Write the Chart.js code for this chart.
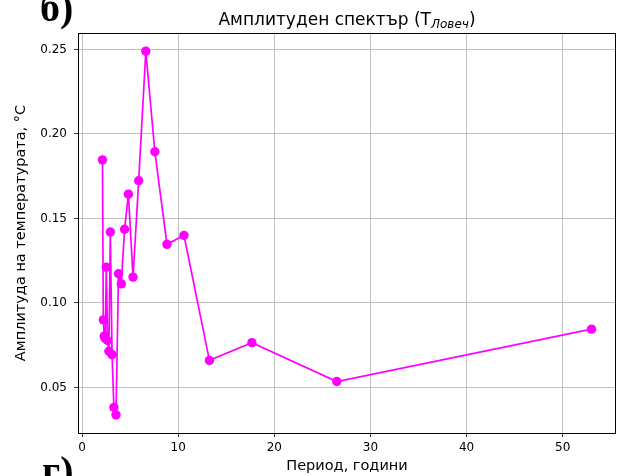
<!DOCTYPE html>
<html>
<head>
<meta charset="utf-8">
<script src="https://cdn.jsdelivr.net/npm/chart.js@4/dist/chart.umd.min.js"></script>
<style>
  html, body { margin: 0; padding: 0; background: #ffffff; }
  #wrap { position: relative; width: 617px; height: 476px; }
  canvas { display: block; }
</style>
</head>
<body>
<div id="wrap"><canvas id="chart" width="617" height="476"></canvas></div>
<script>
// Amplitude spectrum of the Lovech temperature series: period (years) vs amplitude (°C)
const periods = [53.0, 26.5, 17.67, 13.25, 10.6, 8.83, 7.57, 6.63, 5.89, 5.3, 4.82, 4.42, 4.08,
                 3.79, 3.53, 3.31, 3.12, 2.94, 2.79, 2.65, 2.52, 2.41, 2.3, 2.21, 2.12];
const amplitudes = [0.0845, 0.0535, 0.0765, 0.066, 0.140, 0.1347, 0.1895, 0.249, 0.1723, 0.1153, 0.1644, 0.1436, 0.1113,
                    0.1173, 0.0338, 0.0382, 0.0694, 0.142, 0.0714, 0.0778, 0.1212, 0.0790, 0.0804, 0.0900, 0.1847];
const xTicks = [0, 10, 20, 30, 40, 50];
const yTicks = [0.05, 0.10, 0.15, 0.20, 0.25];

const titleMain = 'Амплитуден спектър (T';
const titleSub = 'Ловеч';
const xLabel = 'Период, години';
const yLabel = 'Амплитуда на температурата, °C';
const panelTop = 'б)';
const panelBottom = 'г)';

const FONT = '"DejaVu Sans", sans-serif';
const points = periods.map((p, i) => ({ x: p, y: amplitudes[i] }));

// margins of 5% around the data range on both axes
const xr = Math.max(...periods) - Math.min(...periods);
const yr = Math.max(...amplitudes) - Math.min(...amplitudes);
const xMin = Math.min(...periods) - 0.05 * xr, xMax = Math.max(...periods) + 0.05 * xr;
const yMin = Math.min(...amplitudes) - 0.05 * yr, yMax = Math.max(...amplitudes) + 0.05 * yr;

const decorations = {
  id: 'decorations',
  afterDraw(chart) {
    const { ctx, chartArea: a } = chart;
    ctx.save();
    // frame around the plotting area
    ctx.strokeStyle = '#000';
    ctx.lineWidth = 1;
    ctx.strokeRect(Math.round(a.left) + 0.5, Math.round(a.top) + 0.5,
                   Math.round(a.right - a.left) - 1, Math.round(a.bottom - a.top));

    // title with italic subscript
    ctx.fillStyle = '#000';
    ctx.textBaseline = 'alphabetic';
    const mainFont = '17px ' + FONT;
    const subFont = 'italic 12px ' + FONT;
    ctx.font = mainFont;
    const w1 = ctx.measureText(titleMain).width;
    const w3 = ctx.measureText(')').width;
    ctx.font = subFont;
    const w2 = ctx.measureText(titleSub).width;
    const cx = (a.left + a.right) / 2;
    let x = cx - (w1 + w2 + w3) / 2;
    const by = 25;
    ctx.font = mainFont;
    ctx.textAlign = 'left';
    ctx.fillText(titleMain, x, by);
    x += w1;
    ctx.font = subFont;
    ctx.fillText(titleSub, x, by + 3);
    x += w2;
    ctx.font = mainFont;
    ctx.fillText(')', x, by);

    // axis labels
    ctx.font = '14.5px ' + FONT;
    ctx.textAlign = 'center';
    ctx.fillText(xLabel, cx, 470);
    ctx.save();
    ctx.translate(25, (a.top + a.bottom) / 2);
    ctx.rotate(-Math.PI / 2);
    ctx.fillText(yLabel, 0, 0);
    ctx.restore();

    // panel letters
    ctx.font = 'bold 40px "Liberation Serif", serif';
    ctx.textAlign = 'left';
    ctx.fillText(panelTop, 40, 21);
    ctx.fillText(panelBottom, 42, 484);
    ctx.restore();
  }
};

new Chart(document.getElementById('chart'), {
  type: 'scatter',
  data: {
    datasets: [{
      data: points,
      showLine: true,
      borderColor: '#ff00ff',
      backgroundColor: '#ff00ff',
      borderWidth: 1.7,
      pointRadius: 4.7,
      pointHoverRadius: 4.7,
      pointBorderWidth: 0,
      tension: 0
    }]
  },
  options: {
    responsive: false,
    animation: false,
    events: [],
    layout: { autoPadding: false, padding: { top: 33, right: 1, left: 0, bottom: 0 } },
    plugins: { legend: { display: false }, tooltip: { enabled: false }, title: { display: false } },
    scales: {
      x: {
        type: 'linear',
        min: xMin, max: xMax,
        afterBuildTicks: s => { s.ticks = xTicks.map(v => ({ value: v })); },
        afterFit: s => { s.height = 43; },
        grid: { color: '#b0b0b0', lineWidth: 0.8, tickColor: '#000', tickLength: 4, drawTicks: true },
        border: { display: false },
        ticks: { color: '#000', font: { family: FONT, size: 12 }, padding: 4, maxRotation: 0,
                 callback: v => String(v) }
      },
      y: {
        type: 'linear',
        min: yMin, max: yMax,
        afterBuildTicks: s => { s.ticks = yTicks.map(v => ({ value: v })); },
        afterFit: s => { s.width = 78; },
        grid: { color: '#b0b0b0', lineWidth: 0.8, tickColor: '#000', tickLength: 4, drawTicks: true },
        border: { display: false },
        ticks: { color: '#000', font: { family: FONT, size: 12 }, padding: 7,
                 callback: v => v.toFixed(2) }
      }
    }
  },
  plugins: [decorations]
});
</script>
</body>
</html>
